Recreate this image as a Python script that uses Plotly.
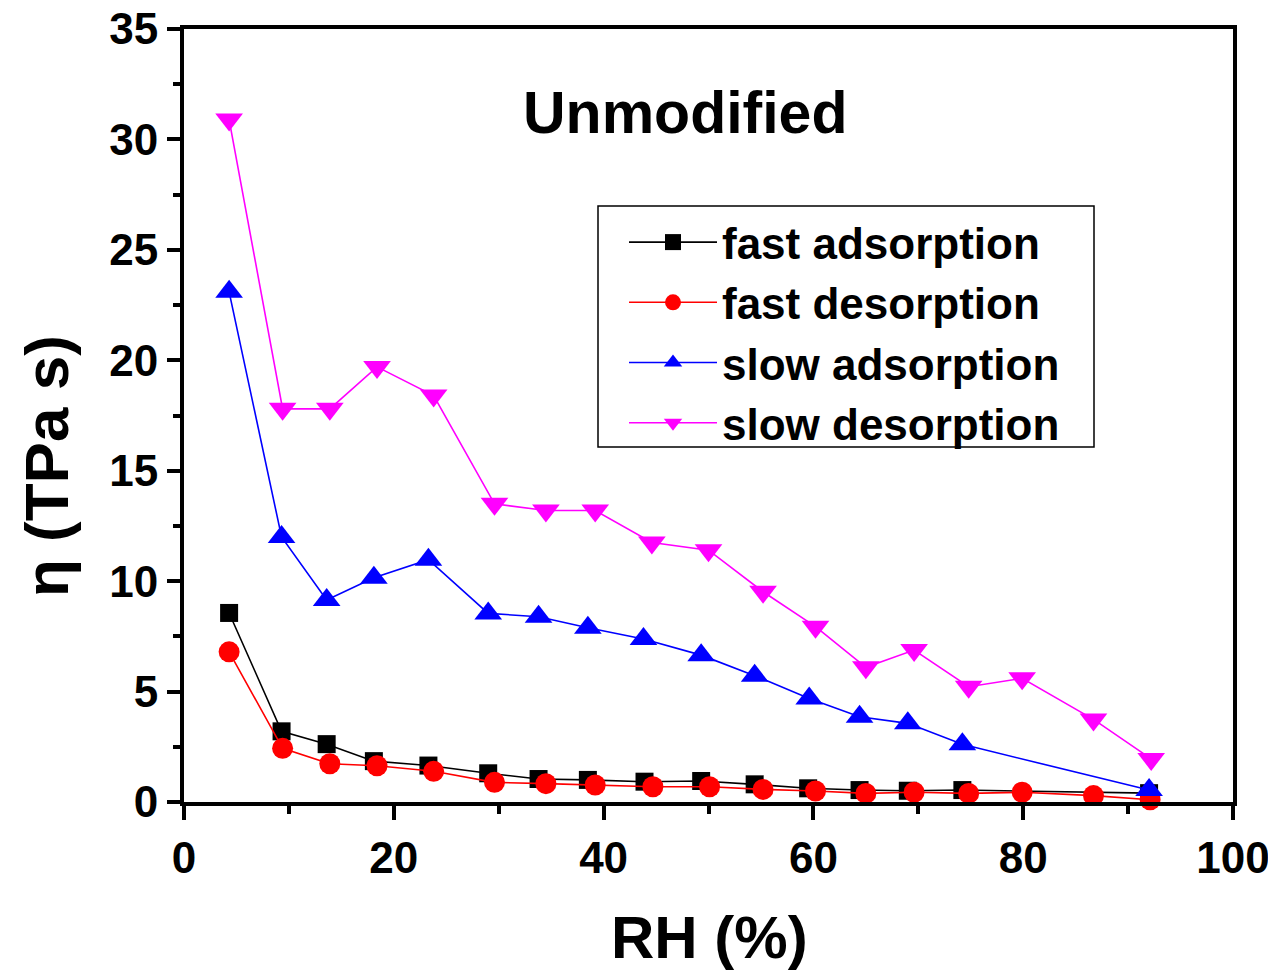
import plotly.graph_objects as go

# ---- data ----
fast_ads_x = [4.3, 9.3, 13.6, 18.1, 23.3, 29.0, 33.8, 38.5, 43.9, 49.3, 54.4, 59.5, 64.4, 69.0, 74.2, 92.0]
fast_ads_y = [8.56, 3.2, 2.62, 1.85, 1.65, 1.3, 1.04, 1.0, 0.92, 0.95, 0.8, 0.62, 0.54, 0.51, 0.54, 0.4]

fast_des_x = [4.3, 9.4, 13.9, 18.4, 23.8, 29.6, 34.5, 39.2, 44.7, 50.1, 55.2, 60.2, 65.0, 69.6, 74.8, 79.9, 86.7, 92.1]
fast_des_y = [6.8, 2.43, 1.73, 1.64, 1.39, 0.89, 0.83, 0.77, 0.69, 0.69, 0.57, 0.50, 0.39, 0.44, 0.39, 0.44, 0.29, 0.1]

slow_ads_x = [4.3, 9.3, 13.6, 18.1, 23.3, 29.0, 33.8, 38.5, 43.8, 49.3, 54.4, 59.6, 64.4, 69.0, 74.2, 92.0]
slow_ads_y = [23.1, 12.0, 9.15, 10.15, 10.97, 8.54, 8.39, 7.89, 7.38, 6.65, 5.72, 4.69, 3.86, 3.56, 2.61, 0.54]

slow_des_x = [4.3, 9.4, 13.9, 18.4, 23.8, 29.6, 34.5, 39.2, 44.6, 50.0, 55.2, 60.2, 65.0, 69.6, 74.8, 79.9, 86.7, 92.2]
slow_des_y = [30.9, 17.8, 17.8, 19.7, 18.4, 13.5, 13.2, 13.2, 11.75, 11.4, 9.52, 7.94, 6.10, 6.88, 5.22, 5.60, 3.74, 1.95]

series_names = ["fast adsorption", "fast desorption", "slow adsorption", "slow desorption"]
x_ticks = [0, 20, 40, 60, 80, 100]
y_ticks = [0, 5, 10, 15, 20, 25, 30, 35]

FONT = "Liberation Sans, Arial, sans-serif"

# page body has an 8px default margin; plot area target (window px): 184..1233 x 29..802
OFF = 8
W, H = 1276 - OFF, 973 - OFF
ML, MT, MR, MB = 184 - OFF, 29 - OFF, 43, 171
PW, PH = W - ML - MR, H - MT - MB


def px(xw):
    return (xw - 184) / PW


def py(yw):
    return (802 - yw) / PH


fig = go.Figure()

specs = [
    (fast_ads_x, fast_ads_y, "#000000", "square", 18),
    (fast_des_x, fast_des_y, "#FF0000", "circle", 21),
    (slow_ads_x, slow_ads_y, "#0000FF", "triangle-up", 24),
    (slow_des_x, slow_des_y, "#FF00FF", "triangle-down", 24),
]
for name, (xs, ys, col, sym, sz) in zip(series_names, specs):
    fig.add_trace(go.Scatter(
        x=xs, y=ys, name=name, mode="lines+markers",
        line=dict(color=col, width=1.6),
        marker=dict(symbol=sym, size=sz, color=col, line=dict(width=0)),
        cliponaxis=False,
    ))

axis_common = dict(
    showgrid=False, zeroline=False, automargin=False,
    showline=True, linecolor="black", linewidth=4, mirror=True,
    ticks="outside", tickcolor="black", tickwidth=4,
    ticklabeloverflow="allow",
    tickfont=dict(family=FONT, size=44, color="black", weight="bold"),
)

fig.update_xaxes(
    range=[0, 100], tickvals=x_ticks, ticklen=14,
    minor=dict(dtick=10, ticks="outside", ticklen=8, tickwidth=4, tickcolor="black"),
    **axis_common,
)
fig.update_yaxes(
    range=[0, 35], tickvals=y_ticks, ticklen=13,
    minor=dict(dtick=2.5, ticks="outside", ticklen=7, tickwidth=4, tickcolor="black"),
    **axis_common,
)

fig.update_layout(
    width=W, height=H,
    margin=dict(l=ML, r=MR, t=MT, b=MB, autoexpand=False),
    paper_bgcolor="white", plot_bgcolor="white",
    showlegend=True,
    legend=dict(
        x=px(624), y=py(207), xanchor="left", yanchor="top",
        bgcolor="rgba(0,0,0,0)", borderwidth=0,
        font=dict(family=FONT, size=44, color="black", weight="bold"),
        itemwidth=88, tracegroupgap=0,
    ),
    shapes=[dict(
        type="rect", xref="paper", yref="paper",
        x0=px(598), x1=px(1094), y0=py(447), y1=py(206),
        line=dict(color="black", width=1.5), fillcolor="rgba(0,0,0,0)",
    )],
    annotations=[
        dict(text="Unmodified", xref="paper", yref="paper",
             x=px(685), y=py(113), showarrow=False,
             xanchor="center", yanchor="middle",
             font=dict(family=FONT, size=59, color="black", weight="bold")),
        dict(text="RH (%)", xref="paper", yref="paper",
             x=px(709), y=py(937), showarrow=False,
             xanchor="center", yanchor="middle",
             font=dict(family=FONT, size=60, color="black", weight="bold")),
        dict(text="η (TPa s)", xref="paper", yref="paper",
             x=px(46), y=py(466), showarrow=False,
             xanchor="center", yanchor="middle", textangle=-90,
             font=dict(family=FONT, size=62, color="black", weight="bold")),
    ],
)

fig.write_html("out.html")
